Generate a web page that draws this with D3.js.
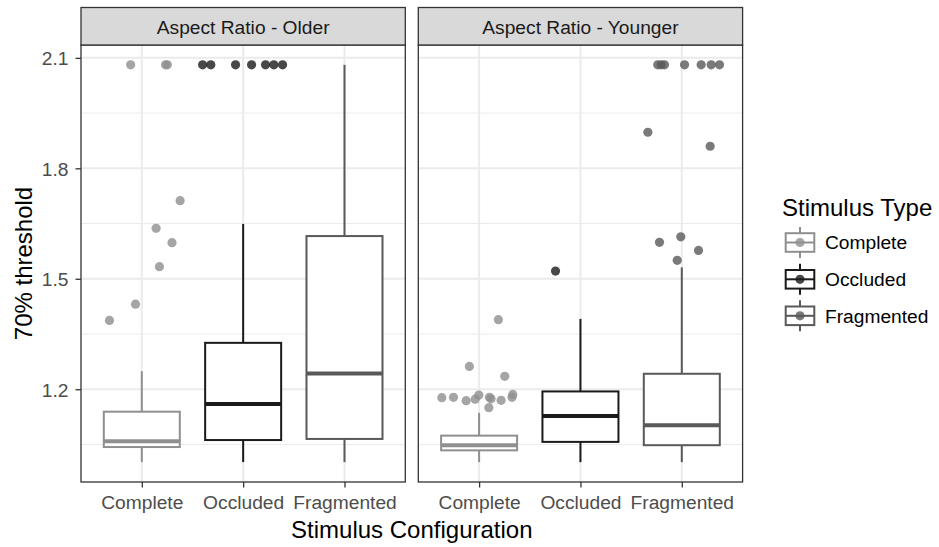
<!DOCTYPE html>
<html>
<head>
<meta charset="utf-8">
<script src="https://cdn.jsdelivr.net/npm/d3@7"></script>
<style>
  body { margin: 0; background: #fff; }
  svg { display: block; font-family: "Liberation Sans", Arial, Helvetica, sans-serif; }
</style>
</head>
<body>
<svg id="chart" width="939" height="547"></svg>
<script>
// ---- data ----
const categories = ["Complete", "Occluded", "Fragmented"];
const panels = ["Aspect Ratio - Older", "Aspect Ratio - Younger"];
const yTicks = [1.2, 1.5, 1.8, 2.1];
const yMinorTicks = [1.05, 1.35, 1.65, 1.95];
const typeColors = ["#8f8f8f", "#1a1a1a", "#595959"];

// box summaries per stimulus: [lower whisker, Q1, median, Q3, upper whisker]
const olderStats = [
  [1.002, 1.043, 1.059, 1.139, 1.249],
  [1.002, 1.062, 1.160, 1.326, 1.649],
  [1.002, 1.065, 1.243, 1.616, 2.081]
];
const youngerStats = [
  [1.002, 1.034, 1.048, 1.074, 1.136],
  [1.002, 1.057, 1.127, 1.194, 1.391],
  [1.002, 1.048, 1.102, 1.242, 1.531]
];

// outliers: [horizontal jitter in category steps, threshold]
const olderCompleteOut = [[-0.11, 2.081], [0.234, 2.081], [0.252, 2.081], [0.378, 1.712],
  [0.141, 1.637], [0.298, 1.598], [0.174, 1.533], [-0.062, 1.431], [-0.319, 1.387]];
const olderOccludedOut = [[-0.40, 2.081], [-0.319, 2.081], [-0.075, 2.081], [0.083, 2.081],
  [0.221, 2.081], [0.303, 2.081], [0.389, 2.081]];
const olderFragmentedOut = [];
const youngerCompleteOut = [[0.19, 1.389], [-0.096, 1.262], [0.253, 1.235], [-0.368, 1.177],
  [-0.253, 1.178], [-0.128, 1.169], [-0.039, 1.173], [-0.003, 1.184], [0.102, 1.178],
  [0.096, 1.150], [0.217, 1.170], [0.332, 1.186], [0.325, 1.178], [0.118, 1.174]];
const youngerOccludedOut = [[-0.246, 1.521]];
const youngerFragmentedOut = [[-0.045, 1.550], [-0.22, 1.599], [-0.01, 1.614], [0.165, 1.577],
  [-0.335, 1.898], [0.28, 1.860], [-0.237, 2.081], [-0.203, 2.081], [-0.171, 2.081],
  [0.027, 2.081], [0.191, 2.081], [0.29, 2.081], [0.372, 2.081]];

const panelStats = [olderStats, youngerStats];
const panelOutliers = [
  [olderCompleteOut, olderOccludedOut, olderFragmentedOut],
  [youngerCompleteOut, youngerOccludedOut, youngerFragmentedOut]
];

// ---- layout ----
const svg = d3.select("#chart");
const panelLeft = [81, 418.3];
const panelW = 324.3;
const stripTop = 7.5, panelTop = 45, panelBottom = 482;
const tickFont = 19.2, titleFont = 24;

// y extent from data with 5% expansion
const allVals = [];
panelStats.forEach(s => s.forEach(b => allVals.push(b[0], b[4])));
panelOutliers.forEach(p => p.forEach(o => o.forEach(d => allVals.push(d[1]))));
const yMin = d3.min(allVals), yMax = d3.max(allVals);
const pad = (yMax - yMin) * 0.05;
const y = d3.scaleLinear().domain([yMin - pad, yMax + pad]).range([panelBottom, panelTop]);
const x = d3.scalePoint().domain(categories).range([0, panelW]).padding(0.6);
const step = x.step();
const boxW = step * 0.75;

panels.forEach((title, pi) => {
  const g = svg.append("g").attr("transform", `translate(${panelLeft[pi]},0)`);

  // grid
  g.selectAll(".minor").data(yMinorTicks).join("line")
    .attr("x1", 0).attr("x2", panelW)
    .attr("y1", d => y(d)).attr("y2", d => y(d))
    .attr("stroke", "#ebebeb").attr("stroke-width", 1);
  g.selectAll(".majorY").data(yTicks).join("line")
    .attr("x1", 0).attr("x2", panelW)
    .attr("y1", d => y(d)).attr("y2", d => y(d))
    .attr("stroke", "#ebebeb").attr("stroke-width", 2);
  g.selectAll(".majorX").data(categories).join("line")
    .attr("x1", d => x(d)).attr("x2", d => x(d))
    .attr("y1", panelTop).attr("y2", panelBottom)
    .attr("stroke", "#ebebeb").attr("stroke-width", 2);

  // boxes
  panelStats[pi].forEach((b, ci) => {
    const cx = x(categories[ci]);
    const col = typeColors[ci];
    g.append("line").attr("x1", cx).attr("x2", cx)
      .attr("y1", y(b[0])).attr("y2", y(b[1]))
      .attr("stroke", col).attr("stroke-width", 2);
    g.append("line").attr("x1", cx).attr("x2", cx)
      .attr("y1", y(b[3])).attr("y2", y(b[4]))
      .attr("stroke", col).attr("stroke-width", 2);
    g.append("rect")
      .attr("x", cx - boxW / 2).attr("width", boxW)
      .attr("y", y(b[3])).attr("height", y(b[1]) - y(b[3]))
      .attr("fill", "#fff").attr("stroke", col).attr("stroke-width", 2);
    g.append("line")
      .attr("x1", cx - boxW / 2).attr("x2", cx + boxW / 2)
      .attr("y1", y(b[2])).attr("y2", y(b[2]))
      .attr("stroke", col).attr("stroke-width", 4);
  });

  // outlying points
  panelOutliers[pi].forEach((pts, ci) => {
    g.selectAll(null).data(pts).join("circle")
      .attr("cx", d => x(categories[ci]) + d[0] * step)
      .attr("cy", d => y(d[1]))
      .attr("r", 4.6)
      .attr("fill", typeColors[ci])
      .attr("fill-opacity", 0.8);
  });

  // panel border
  g.append("rect").attr("x", 0).attr("y", panelTop)
    .attr("width", panelW).attr("height", panelBottom - panelTop)
    .attr("fill", "none").attr("stroke", "#333").attr("stroke-width", 1.3);

  // strip
  g.append("rect").attr("x", 0).attr("y", stripTop)
    .attr("width", panelW).attr("height", panelTop - stripTop)
    .attr("fill", "#d9d9d9").attr("stroke", "#333").attr("stroke-width", 1.3);
  g.append("text").attr("x", panelW / 2).attr("y", 34.3)
    .attr("text-anchor", "middle").attr("font-size", tickFont)
    .attr("fill", "#1a1a1a").text(title);

  // x axis
  const xa = g.append("g").attr("transform", `translate(0,${panelBottom})`)
    .call(d3.axisBottom(x).tickSize(5.5).tickPadding(8));
  xa.select(".domain").remove();
  xa.selectAll(".tick line").attr("stroke", "#333").attr("stroke-width", 1.3);
  xa.selectAll(".tick text").attr("font-size", tickFont).attr("fill", "#4d4d4d")
    .attr("font-family", null);

  // y axis on the first panel
  if (pi === 0) {
    const ya = g.append("g")
      .call(d3.axisLeft(y).tickValues(yTicks).tickFormat(d3.format(".1f")).tickSize(5.5).tickPadding(7));
    ya.select(".domain").remove();
    ya.selectAll(".tick line").attr("stroke", "#333").attr("stroke-width", 1.3);
    ya.selectAll(".tick text").attr("font-size", tickFont).attr("fill", "#4d4d4d")
      .attr("dy", "0.37em").attr("font-family", null);
  }
});

// axis titles
svg.append("text")
  .attr("x", (panelLeft[0] + panelLeft[1] + panelW) / 2).attr("y", 538)
  .attr("text-anchor", "middle").attr("font-size", titleFont).attr("fill", "#000")
  .text("Stimulus Configuration");
svg.append("text")
  .attr("transform", `translate(31.5,${(panelTop + panelBottom) / 2}) rotate(-90)`)
  .attr("text-anchor", "middle").attr("font-size", titleFont).attr("fill", "#000")
  .text("70% threshold");

// legend
const legend = svg.append("g");
legend.append("text").attr("x", 782).attr("y", 216)
  .attr("font-size", titleFont).attr("fill", "#000").text("Stimulus Type");
const keyY = [242.5, 279.3, 315.8];
categories.forEach((c, i) => {
  const col = typeColors[i];
  const cy = keyY[i];
  const kx = 800;
  legend.append("line").attr("x1", kx).attr("x2", kx)
    .attr("y1", cy - 15.5).attr("y2", cy + 15.5)
    .attr("stroke", col).attr("stroke-width", 2);
  legend.append("rect").attr("x", kx - 14.3).attr("y", cy - 9.3)
    .attr("width", 28.6).attr("height", 18.6)
    .attr("fill", "#fff").attr("stroke", col).attr("stroke-width", 2);
  legend.append("line").attr("x1", kx - 14.3).attr("x2", kx + 14.3)
    .attr("y1", cy).attr("y2", cy)
    .attr("stroke", col).attr("stroke-width", 2);
  legend.append("circle").attr("cx", kx).attr("cy", cy).attr("r", 4.6)
    .attr("fill", col).attr("fill-opacity", 0.8);
  legend.append("text").attr("x", 825).attr("y", cy + 6.8)
    .attr("font-size", tickFont).attr("fill", "#000").text(c);
});
</script>
</body>
</html>
